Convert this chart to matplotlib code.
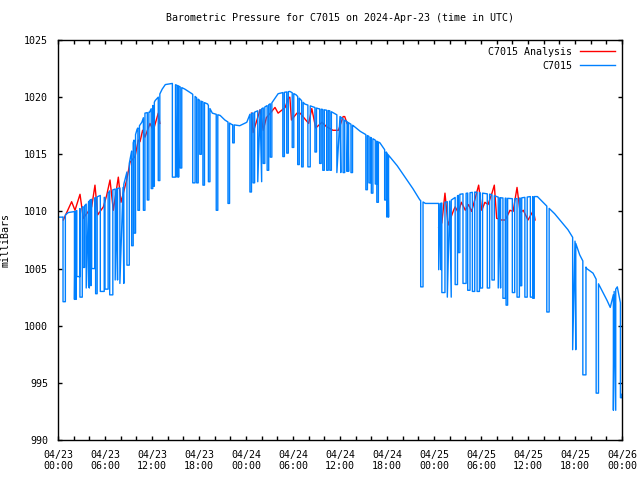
import numpy as np
import matplotlib
matplotlib.use('Agg')
import matplotlib.pyplot as plt

# hours since 2024-04-23 00:00 UTC
base_hours = [0.0, 0.6, 1.3, 2.2, 3.4, 4.1, 5.4, 6.0, 6.6, 7.5, 8.3, 8.7, 9.1, 9.6,
              10.1, 10.7, 11.1, 11.7, 12.4, 12.8, 13.3, 13.7, 14.6, 15.3, 16.2, 17.1,
              18.1, 19.1, 19.7, 20.7, 21.3, 22.2, 23.2, 24.1, 24.5, 25.8, 27.3, 28.1,
              28.7, 29.6, 30.4, 31.5, 33.2, 34.7, 36.0, 37.0, 37.7, 38.6, 39.6, 41.1,
              42.1, 43.3, 44.3, 45.3, 46.2, 46.9, 48.8, 50.0, 51.3, 53.2, 55.2, 56.4,
              58.3, 60.3, 61.2, 62.2, 63.4, 65.1, 66.0, 66.6, 67.5, 68.3, 69.2, 70.1,
              70.5, 71.0, 71.4, 71.8, 72.0]
base_mb = [1009.5, 1009.5, 1009.9, 1010.0, 1010.5, 1011.0, 1011.4, 1011.2, 1011.8,
           1012.0, 1012.1, 1013.2, 1014.2, 1016.0, 1017.2, 1017.8, 1018.6, 1018.7,
           1019.7, 1020.0, 1020.7, 1021.1, 1021.2, 1021.0, 1020.7, 1020.3, 1019.7,
           1019.4, 1018.6, 1018.4, 1018.0, 1017.6, 1017.5, 1017.8, 1018.5, 1018.9,
           1019.5, 1020.3, 1020.4, 1020.5, 1020.2, 1019.4, 1019.0, 1018.8, 1018.3,
           1017.8, 1017.5, 1017.0, 1016.6, 1016.0, 1015.0, 1014.0, 1013.0, 1012.0,
           1011.0, 1010.7, 1010.7, 1010.9, 1011.5, 1011.7, 1011.5, 1011.2, 1011.1,
           1011.3, 1011.3, 1010.6, 1009.8, 1008.4, 1007.4, 1006.2, 1005.0, 1004.6,
           1003.4, 1002.2, 1001.6, 1003.0, 1003.4, 1002.0, 994.0]

# dropouts: start hour, width (hours), lowest reading
spike_hours = [0.64, 2.1, 2.4, 2.8, 3.2, 3.6, 3.9, 4.3, 4.8, 5.4, 6.0, 6.6, 7.3, 7.9,
               8.8, 9.4, 9.7, 10.2, 10.9, 11.4, 11.9, 12.1, 12.8, 14.6, 15.2, 15.6,
               17.2, 17.7, 18.1, 18.5, 19.2, 20.2, 21.7, 22.3, 24.5, 24.9, 25.5, 26.2,
               26.7, 27.1, 28.7, 29.2, 29.9, 30.6, 31.1, 31.9, 32.8, 33.4, 33.8, 34.3,
               34.7, 35.6, 36.4, 36.9, 37.4, 39.3, 39.7, 40.0, 40.5, 40.7, 41.7, 42.0,
               46.3, 48.6, 49.0, 49.7, 50.7, 51.1, 51.7, 52.3, 52.9, 53.5, 53.9, 54.8,
               55.4, 56.2, 56.8, 57.2, 58.0, 58.6, 59.0, 59.6, 60.3, 60.6, 62.4, 65.7,
               67.0, 68.7, 70.9, 71.8]
spike_width = [0.3, 0.2, 0.4, 0.3, 0.2, 0.4, 0.3, 0.4, 0.2, 0.5, 0.4, 0.4, 0.3, 0.5,
               0.3, 0.2, 0.2, 0.2, 0.2, 0.2, 0.2, 0.2, 0.2, 0.4, 0.2, 0.2,
               0.3, 0.2, 0.2, 0.2, 0.2, 0.2, 0.2, 0.2, 0.2, 0.2, 0.5, 0.2,
               0.2, 0.2, 0.2, 0.2, 0.2, 0.2, 0.2, 0.3, 0.2, 0.2, 0.2, 0.2,
               0.2, 0.5, 0.2, 0.2, 0.2, 0.2, 0.2, 0.2, 0.2, 0.2, 0.2, 0.2,
               0.3, 0.3, 0.4, 0.5, 0.3, 0.2, 0.4, 0.3, 0.3, 0.3, 0.3, 0.3,
               0.3, 0.3, 0.3, 0.2, 0.3, 0.3, 0.2, 0.3, 0.3, 0.2, 0.3, 0.4,
               0.4, 0.3, 0.3, 0.2]
spike_low = [1002.1, 1002.3, 1004.3, 1002.5, 1005.1, 1003.3, 1003.5, 1005.0, 1002.8,
             1003.0, 1003.2, 1002.7, 1004.0, 1003.7, 1005.3, 1007.0, 1008.1, 1010.1,
             1010.1, 1011.0, 1012.0, 1012.2, 1012.7, 1013.0, 1013.0, 1013.8, 1012.5,
             1012.5, 1015.0, 1012.3, 1012.6, 1010.1, 1010.7, 1016.0, 1011.7, 1012.5,
             1012.6, 1014.2, 1013.6, 1014.75, 1014.8, 1015.1, 1015.6, 1014.1, 1013.9,
             1013.9, 1015.2, 1014.2, 1013.6, 1013.6, 1013.6, 1013.4, 1013.4, 1013.5,
             1013.4, 1011.9, 1012.5, 1011.6, 1012.4, 1010.8, 1011.0, 1009.5, 1003.4,
             1004.9, 1002.9, 1002.5, 1003.6, 1006.4, 1003.7, 1003.1, 1003.0, 1003.0,
             1003.3, 1003.3, 1004.0, 1003.3, 1002.4, 1001.8, 1002.9, 1002.5, 1003.5,
             1002.5, 1002.5, 1002.4, 1001.2, 997.9, 995.7, 994.1, 992.6, 993.7]

# analysis series (red), three segments
ana1_hours = [0.68, 1.74, 2.17, 2.81, 3.23, 4.3, 4.72, 5.07, 5.79, 6.21, 6.64, 7.06,
              7.7, 8.04, 8.77, 9.19, 9.83, 10.26, 10.47, 10.8, 11.1, 11.74, 12.17,
              12.8, 13.0]
ana1_mb = [1009.25, 1010.85, 1010.1, 1011.5, 1009.4, 1010.4, 1012.3, 1009.7, 1010.4,
           1011.4, 1012.75, 1010.1, 1013.0, 1010.8, 1012.75, 1014.3, 1014.8, 1016.25,
           1016.1, 1017.1, 1016.5, 1017.7, 1017.1, 1018.6, 1017.7]
ana2_hours = [24.7, 24.9, 25.8, 26.2, 26.6, 27.1, 27.7, 28.1, 29.0, 29.4, 29.6, 29.8,
              30.5, 30.9, 32.0, 32.4, 32.9, 33.7, 34.3, 35.1, 35.8, 36.4, 36.6, 36.9]
ana2_mb = [1018.6, 1016.9, 1018.9, 1017.1, 1018.2, 1018.6, 1019.1, 1018.6, 1019.1,
           1019.9, 1020.0, 1018.0, 1018.6, 1018.6, 1017.7, 1019.0, 1017.3, 1017.8,
           1017.4, 1017.1, 1017.1, 1018.3, 1018.3, 1017.7]
ana3_hours = [48.6, 49.0, 49.4, 49.8, 50.5, 50.7, 51.1, 51.5, 52.0, 52.4, 52.8, 53.2,
              53.7, 54.1, 54.5, 54.9, 55.4, 55.7, 56.0, 56.6, 57.1, 57.7, 58.1, 58.6,
              59.0, 59.4, 60.0, 60.7, 60.9]
ana3_mb = [1008.6, 1009.0, 1011.6, 1008.8, 1010.1, 1010.4, 1009.9, 1010.8, 1010.1,
           1010.6, 1010.0, 1011.0, 1012.3, 1010.1, 1010.8, 1010.6, 1011.6, 1012.3,
           1009.4, 1009.25, 1009.25, 1010.1, 1010.0, 1012.1, 1009.9, 1010.1, 1009.25,
           1010.1, 1009.25]

tick_hours = list(range(0, 73, 6))
tick_labels = ['04/23\n00:00', '04/23\n06:00', '04/23\n12:00', '04/23\n18:00',
               '04/24\n00:00', '04/24\n06:00', '04/24\n12:00', '04/24\n18:00',
               '04/25\n00:00', '04/25\n06:00', '04/25\n12:00', '04/25\n18:00',
               '04/26\n00:00']
minor_hours = [h for h in range(0, 73, 2) if h % 6]

BLUE = '#0080ff'
RED = '#ff0000'
FONT = 'DejaVu Sans Mono'
FS = 7.2


def build_station_series():
    """Join the smooth trace with the dropout rectangles."""
    pts = list(zip(base_hours, base_mb))
    for h, w, low in zip(spike_hours, spike_width, spike_low):
        top0 = np.interp(h, base_hours, base_mb)
        top1 = np.interp(h + w, base_hours, base_mb)
        pts += [(h, top0), (h + 1e-3, low), (h + w - 1e-3, low), (h + w, top1)]
    pts.sort(key=lambda p: p[0])
    return [p[0] for p in pts], [p[1] for p in pts]


plt.rcParams['font.family'] = [FONT]
fig = plt.figure(figsize=(6.4, 4.8), dpi=100)
ax = fig.add_axes([58 / 640, 40 / 480, 564 / 640, 400 / 480])

# analysis first, station drawn over it (gnuplot order)
ax.plot(ana1_hours, ana1_mb, color=RED, lw=1, label='C7015 Analysis')
ax.plot(ana2_hours, ana2_mb, color=RED, lw=1)
ax.plot(ana3_hours, ana3_mb, color=RED, lw=1)
sx, sy = build_station_series()
ax.plot(sx, sy, color=BLUE, lw=1, label='C7015')

ax.set_xlim(0, 72)
ax.set_ylim(990, 1025)
ax.set_xticks(tick_hours)
ax.set_xticklabels(tick_labels, fontsize=FS)
ax.set_xticks(minor_hours, minor=True)
ax.set_yticks(range(990, 1026, 5))
ax.set_yticklabels([str(v) for v in range(990, 1026, 5)], fontsize=FS)
ax.tick_params(which='both', direction='in', length=3.2, width=1,
               top=True, right=True, pad=7)
for s in ax.spines.values():
    s.set_linewidth(1)

ax.set_ylabel('milliBars', fontsize=FS, labelpad=10)
ax.set_title('Barometric Pressure for C7015 on 2024-Apr-23 (time in UTC)',
             fontsize=FS, pad=14)
ax.legend(loc='upper right', frameon=False, markerfirst=False, fontsize=FS,
          handlelength=3.5, labelspacing=0.4, borderaxespad=0.3)

fig.savefig('out.png', dpi=100)
